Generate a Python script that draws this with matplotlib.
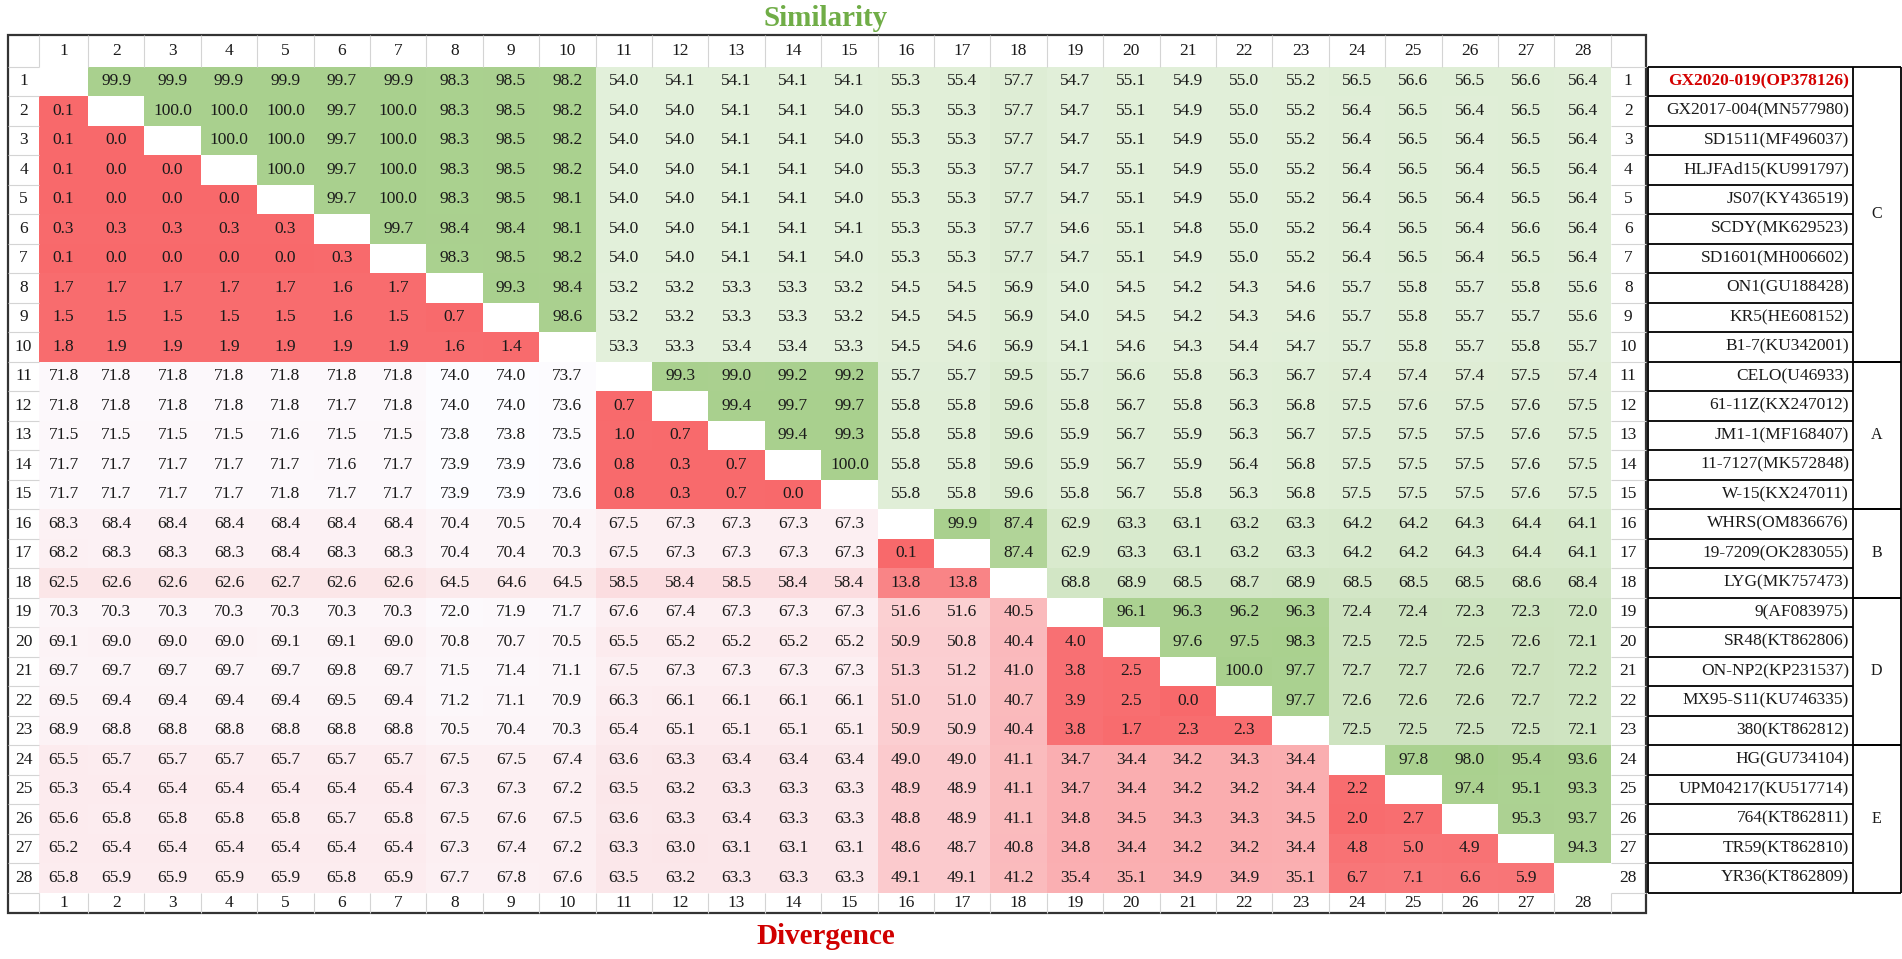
import matplotlib.pyplot as plt
import numpy as np
from matplotlib.colors import LinearSegmentedColormap, Normalize
from matplotlib.patches import Rectangle

plt.rcParams["font.family"] = ["Liberation Serif", "DejaVu Serif"]

# strain names (row order 1..28)
strains = [
    "GX2020-019(OP378126)", "GX2017-004(MN577980)", "SD1511(MF496037)",
    "HLJFAd15(KU991797)", "JS07(KY436519)", "SCDY(MK629523)",
    "SD1601(MH006602)", "ON1(GU188428)", "KR5(HE608152)", "B1-7(KU342001)",
    "CELO(U46933)", "61-11Z(KX247012)", "JM1-1(MF168407)",
    "11-7127(MK572848)", "W-15(KX247011)", "WHRS(OM836676)",
    "19-7209(OK283055)", "LYG(MK757473)", "9(AF083975)", "SR48(KT862806)",
    "ON-NP2(KP231537)", "MX95-S11(KU746335)", "380(KT862812)",
    "HG(GU734104)", "UPM04217(KU517714)", "764(KT862811)",
    "TR59(KT862810)", "YR36(KT862809)",
]

# genotype groups: (letter, first row, last row)
groups = [("C", 1, 10), ("A", 11, 15), ("B", 16, 18), ("D", 19, 23), ("E", 24, 28)]

# upper triangle = similarity (%), lower triangle = divergence; None on diagonal
matrix_rows = [
    [None, 99.9, 99.9, 99.9, 99.9, 99.7, 99.9, 98.3, 98.5, 98.2, 54.0, 54.1, 54.1, 54.1, 54.1, 55.3, 55.4, 57.7, 54.7, 55.1, 54.9, 55.0, 55.2, 56.5, 56.6, 56.5, 56.6, 56.4],
    [0.1, None, 100.0, 100.0, 100.0, 99.7, 100.0, 98.3, 98.5, 98.2, 54.0, 54.0, 54.1, 54.1, 54.0, 55.3, 55.3, 57.7, 54.7, 55.1, 54.9, 55.0, 55.2, 56.4, 56.5, 56.4, 56.5, 56.4],
    [0.1, 0.0, None, 100.0, 100.0, 99.7, 100.0, 98.3, 98.5, 98.2, 54.0, 54.0, 54.1, 54.1, 54.0, 55.3, 55.3, 57.7, 54.7, 55.1, 54.9, 55.0, 55.2, 56.4, 56.5, 56.4, 56.5, 56.4],
    [0.1, 0.0, 0.0, None, 100.0, 99.7, 100.0, 98.3, 98.5, 98.2, 54.0, 54.0, 54.1, 54.1, 54.0, 55.3, 55.3, 57.7, 54.7, 55.1, 54.9, 55.0, 55.2, 56.4, 56.5, 56.4, 56.5, 56.4],
    [0.1, 0.0, 0.0, 0.0, None, 99.7, 100.0, 98.3, 98.5, 98.1, 54.0, 54.0, 54.1, 54.1, 54.0, 55.3, 55.3, 57.7, 54.7, 55.1, 54.9, 55.0, 55.2, 56.4, 56.5, 56.4, 56.5, 56.4],
    [0.3, 0.3, 0.3, 0.3, 0.3, None, 99.7, 98.4, 98.4, 98.1, 54.0, 54.0, 54.1, 54.1, 54.1, 55.3, 55.3, 57.7, 54.6, 55.1, 54.8, 55.0, 55.2, 56.4, 56.5, 56.4, 56.6, 56.4],
    [0.1, 0.0, 0.0, 0.0, 0.0, 0.3, None, 98.3, 98.5, 98.2, 54.0, 54.0, 54.1, 54.1, 54.0, 55.3, 55.3, 57.7, 54.7, 55.1, 54.9, 55.0, 55.2, 56.4, 56.5, 56.4, 56.5, 56.4],
    [1.7, 1.7, 1.7, 1.7, 1.7, 1.6, 1.7, None, 99.3, 98.4, 53.2, 53.2, 53.3, 53.3, 53.2, 54.5, 54.5, 56.9, 54.0, 54.5, 54.2, 54.3, 54.6, 55.7, 55.8, 55.7, 55.8, 55.6],
    [1.5, 1.5, 1.5, 1.5, 1.5, 1.6, 1.5, 0.7, None, 98.6, 53.2, 53.2, 53.3, 53.3, 53.2, 54.5, 54.5, 56.9, 54.0, 54.5, 54.2, 54.3, 54.6, 55.7, 55.8, 55.7, 55.7, 55.6],
    [1.8, 1.9, 1.9, 1.9, 1.9, 1.9, 1.9, 1.6, 1.4, None, 53.3, 53.3, 53.4, 53.4, 53.3, 54.5, 54.6, 56.9, 54.1, 54.6, 54.3, 54.4, 54.7, 55.7, 55.8, 55.7, 55.8, 55.7],
    [71.8, 71.8, 71.8, 71.8, 71.8, 71.8, 71.8, 74.0, 74.0, 73.7, None, 99.3, 99.0, 99.2, 99.2, 55.7, 55.7, 59.5, 55.7, 56.6, 55.8, 56.3, 56.7, 57.4, 57.4, 57.4, 57.5, 57.4],
    [71.8, 71.8, 71.8, 71.8, 71.8, 71.7, 71.8, 74.0, 74.0, 73.6, 0.7, None, 99.4, 99.7, 99.7, 55.8, 55.8, 59.6, 55.8, 56.7, 55.8, 56.3, 56.8, 57.5, 57.6, 57.5, 57.6, 57.5],
    [71.5, 71.5, 71.5, 71.5, 71.6, 71.5, 71.5, 73.8, 73.8, 73.5, 1.0, 0.7, None, 99.4, 99.3, 55.8, 55.8, 59.6, 55.9, 56.7, 55.9, 56.3, 56.7, 57.5, 57.5, 57.5, 57.6, 57.5],
    [71.7, 71.7, 71.7, 71.7, 71.7, 71.6, 71.7, 73.9, 73.9, 73.6, 0.8, 0.3, 0.7, None, 100.0, 55.8, 55.8, 59.6, 55.9, 56.7, 55.9, 56.4, 56.8, 57.5, 57.5, 57.5, 57.6, 57.5],
    [71.7, 71.7, 71.7, 71.7, 71.8, 71.7, 71.7, 73.9, 73.9, 73.6, 0.8, 0.3, 0.7, 0.0, None, 55.8, 55.8, 59.6, 55.8, 56.7, 55.8, 56.3, 56.8, 57.5, 57.5, 57.5, 57.6, 57.5],
    [68.3, 68.4, 68.4, 68.4, 68.4, 68.4, 68.4, 70.4, 70.5, 70.4, 67.5, 67.3, 67.3, 67.3, 67.3, None, 99.9, 87.4, 62.9, 63.3, 63.1, 63.2, 63.3, 64.2, 64.2, 64.3, 64.4, 64.1],
    [68.2, 68.3, 68.3, 68.3, 68.4, 68.3, 68.3, 70.4, 70.4, 70.3, 67.5, 67.3, 67.3, 67.3, 67.3, 0.1, None, 87.4, 62.9, 63.3, 63.1, 63.2, 63.3, 64.2, 64.2, 64.3, 64.4, 64.1],
    [62.5, 62.6, 62.6, 62.6, 62.7, 62.6, 62.6, 64.5, 64.6, 64.5, 58.5, 58.4, 58.5, 58.4, 58.4, 13.8, 13.8, None, 68.8, 68.9, 68.5, 68.7, 68.9, 68.5, 68.5, 68.5, 68.6, 68.4],
    [70.3, 70.3, 70.3, 70.3, 70.3, 70.3, 70.3, 72.0, 71.9, 71.7, 67.6, 67.4, 67.3, 67.3, 67.3, 51.6, 51.6, 40.5, None, 96.1, 96.3, 96.2, 96.3, 72.4, 72.4, 72.3, 72.3, 72.0],
    [69.1, 69.0, 69.0, 69.0, 69.1, 69.1, 69.0, 70.8, 70.7, 70.5, 65.5, 65.2, 65.2, 65.2, 65.2, 50.9, 50.8, 40.4, 4.0, None, 97.6, 97.5, 98.3, 72.5, 72.5, 72.5, 72.6, 72.1],
    [69.7, 69.7, 69.7, 69.7, 69.7, 69.8, 69.7, 71.5, 71.4, 71.1, 67.5, 67.3, 67.3, 67.3, 67.3, 51.3, 51.2, 41.0, 3.8, 2.5, None, 100.0, 97.7, 72.7, 72.7, 72.6, 72.7, 72.2],
    [69.5, 69.4, 69.4, 69.4, 69.4, 69.5, 69.4, 71.2, 71.1, 70.9, 66.3, 66.1, 66.1, 66.1, 66.1, 51.0, 51.0, 40.7, 3.9, 2.5, 0.0, None, 97.7, 72.6, 72.6, 72.6, 72.7, 72.2],
    [68.9, 68.8, 68.8, 68.8, 68.8, 68.8, 68.8, 70.5, 70.4, 70.3, 65.4, 65.1, 65.1, 65.1, 65.1, 50.9, 50.9, 40.4, 3.8, 1.7, 2.3, 2.3, None, 72.5, 72.5, 72.5, 72.5, 72.1],
    [65.5, 65.7, 65.7, 65.7, 65.7, 65.7, 65.7, 67.5, 67.5, 67.4, 63.6, 63.3, 63.4, 63.4, 63.4, 49.0, 49.0, 41.1, 34.7, 34.4, 34.2, 34.3, 34.4, None, 97.8, 98.0, 95.4, 93.6],
    [65.3, 65.4, 65.4, 65.4, 65.4, 65.4, 65.4, 67.3, 67.3, 67.2, 63.5, 63.2, 63.3, 63.3, 63.3, 48.9, 48.9, 41.1, 34.7, 34.4, 34.2, 34.2, 34.4, 2.2, None, 97.4, 95.1, 93.3],
    [65.6, 65.8, 65.8, 65.8, 65.8, 65.7, 65.8, 67.5, 67.6, 67.5, 63.6, 63.3, 63.4, 63.3, 63.3, 48.8, 48.9, 41.1, 34.8, 34.5, 34.3, 34.3, 34.5, 2.0, 2.7, None, 95.3, 93.7],
    [65.2, 65.4, 65.4, 65.4, 65.4, 65.4, 65.4, 67.3, 67.4, 67.2, 63.3, 63.0, 63.1, 63.1, 63.1, 48.6, 48.7, 40.8, 34.8, 34.4, 34.2, 34.2, 34.4, 4.8, 5.0, 4.9, None, 94.3],
    [65.8, 65.9, 65.9, 65.9, 65.9, 65.8, 65.9, 67.7, 67.8, 67.6, 63.5, 63.2, 63.3, 63.3, 63.3, 49.1, 49.1, 41.2, 35.4, 35.1, 34.9, 34.9, 35.1, 6.7, 7.1, 6.6, 5.9, None],
]

n = len(strains)
mat = np.array([[np.nan if v is None else v for v in row] for row in matrix_rows])
upper = np.ma.masked_where(~np.triu(np.ones((n, n), bool), 1), mat)
lower = np.ma.masked_where(~np.tril(np.ones((n, n), bool), -1), mat)

green = LinearSegmentedColormap.from_list(
    "sim", [(0.0, "#e3f0db"), (0.40, "#cfe4c1"), (0.73, "#b1d498"), (1.0, "#a9d08e")])
red = LinearSegmentedColormap.from_list("div", ["#f8696b", "#fcfcff"])

W, H = 1902, 959
fig = plt.figure(figsize=(W / 100, H / 100), dpi=100)
ax = fig.add_axes([0, 0, 1, 1])
ax.set_xlim(0, W)
ax.set_ylim(H, 0)
ax.axis("off")

# cell geometry (pixels)
left, top, bottom = 8, 35, 913
x_edges = np.r_[39, 88 + 56.4 * np.arange(n)]
y_edges = 66.5 + 29.5 * np.arange(n + 1)
xc = (x_edges[:-1] + x_edges[1:]) / 2
yc = (y_edges[:-1] + y_edges[1:]) / 2
right = x_edges[-1] + 35

ax.pcolormesh(x_edges, y_edges, upper, cmap=green, norm=Normalize(53.2, 100))
ax.pcolormesh(x_edges, y_edges, lower, cmap=red, norm=Normalize(0, 74))

fs = 12.5
txt = "#1a1a1a"
for i in range(n):
    for j in range(n):
        v = mat[i, j]
        if not np.isnan(v):
            ax.text(xc[j], yc[i], f"{v:.1f}", ha="center", va="center", fontsize=fs, color=txt)

# header / row number cells
grid_c = "#d4d4d4"
ax.vlines(x_edges, top, y_edges[0], color=grid_c, lw=0.8)
ax.vlines(x_edges, y_edges[-1], bottom, color=grid_c, lw=0.8)
ax.hlines(y_edges, left, x_edges[0], color=grid_c, lw=0.8)
ax.hlines(y_edges, x_edges[-1], right, color=grid_c, lw=0.8)
for j in range(n):
    ax.text(xc[j], (top + y_edges[0]) / 2, str(j + 1), ha="center", va="center", fontsize=fs, color=txt)
    ax.text(xc[j], (y_edges[-1] + bottom) / 2, str(j + 1), ha="center", va="center", fontsize=fs, color=txt)
for i in range(n):
    ax.text((left + x_edges[0]) / 2, yc[i], str(i + 1), ha="center", va="center", fontsize=fs, color=txt)
    ax.text((x_edges[-1] + right) / 2, yc[i], str(i + 1), ha="center", va="center", fontsize=fs, color=txt)

ax.add_patch(Rectangle((left, top), right - left, bottom - top, fill=False, ec="#333333", lw=1.6))

# strain name table with genotype column
lx0, lx1, lx2 = right + 2, 1853, 1900.5
ax.hlines(y_edges, lx0, lx1, color="black", lw=1.3)
ax.vlines([lx0, lx1, lx2], y_edges[0], y_edges[-1], color="black", lw=1.3)
for i, name in enumerate(strains):
    if i == 0:
        ax.text(lx1 - 4, yc[i], name, ha="right", va="center", fontsize=fs,
                color="#d40000", fontweight="bold")
    else:
        ax.text(lx1 - 4, yc[i], name, ha="right", va="center", fontsize=fs, color=txt)
for letter, a, b in groups:
    ax.hlines([y_edges[a - 1], y_edges[b]], lx1, lx2, color="black", lw=1.3)
    ax.text((lx1 + lx2) / 2, (y_edges[a - 1] + y_edges[b]) / 2, letter,
            ha="center", va="center", fontsize=11.5, color=txt)

ax.text(826, 18, "Similarity", ha="center", va="center", fontsize=21,
        fontweight="bold", color="#70ad47")
ax.text(826, 937, "Divergence", ha="center", va="center", fontsize=21,
        fontweight="bold", color="#d00000")

fig.savefig("out.png", dpi=100)
